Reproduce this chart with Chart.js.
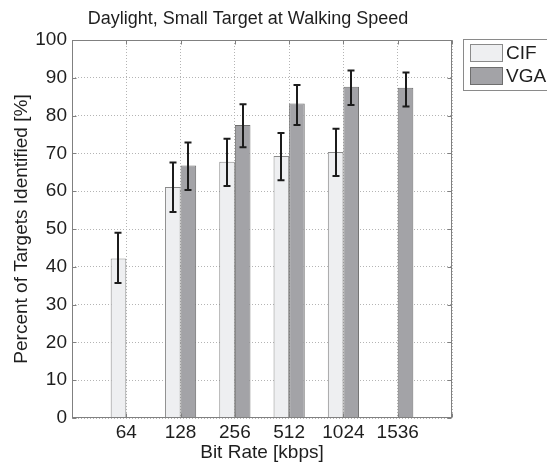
<!DOCTYPE html>
<html>
<head>
<meta charset="utf-8">
<script src="https://cdn.jsdelivr.net/npm/chart.js@4"></script>
<style>
  html, body { margin: 0; padding: 0; background: #ffffff; }
  #wrap { width: 547px; height: 464px; }
</style>
</head>
<body>
<div id="wrap"><canvas id="c" width="547" height="464"></canvas></div>
<script>
// ---- data ----
const categories = ['64', '128', '256', '512', '1024', '1536'];
const seriesNames = ['CIF', 'VGA'];
const cifValues = [42.2, 61.1, 67.8, 69.3, 70.4, null];
const cifLow    = [35.7, 54.5, 61.4, 62.9, 64.0, null];
const cifHigh   = [49.0, 67.6, 73.9, 75.4, 76.5, null];
const vgaValues = [null, 66.8, 77.5, 83.2, 87.6, 87.4];
const vgaLow    = [null, 60.3, 71.6, 77.5, 82.8, 82.4];
const vgaHigh   = [null, 72.9, 83.0, 88.1, 91.9, 91.4];
const yTicks = [0, 10, 20, 30, 40, 50, 60, 70, 80, 90, 100];
const titleText = 'Daylight, Small Target at Walking Speed';
const xTitle = 'Bit Rate [kbps]';
const yTitle = 'Percent of Targets Identified [%]';

const FONT = "'Liberation Sans', Arial, Helvetica, sans-serif";
const TEXT = '#1e1e1e';

const toPoints = (vals) => vals.map((v, i) => ({ x: i + 1, y: v }));

const errorSets = [
  { low: cifLow, high: cifHigh },
  { low: vgaLow, high: vgaHigh }
];

const errorBarPlugin = {
  id: 'errorBars',
  afterDatasetsDraw(chart) {
    const ctx = chart.ctx;
    const yScale = chart.scales.y;
    ctx.save();
    ctx.strokeStyle = '#1c1c1c';
    ctx.lineWidth = 2;
    chart.data.datasets.forEach((ds, di) => {
      const meta = chart.getDatasetMeta(di);
      const err = errorSets[di];
      meta.data.forEach((el, j) => {
        if (err.low[j] == null || err.high[j] == null) return;
        const x = Math.round(el.x);
        const yl = yScale.getPixelForValue(err.low[j]);
        const yh = yScale.getPixelForValue(err.high[j]);
        ctx.beginPath();
        ctx.moveTo(x, yl); ctx.lineTo(x, yh);
        ctx.moveTo(x - 3.5, yl); ctx.lineTo(x + 3.5, yl);
        ctx.moveTo(x - 3.5, yh); ctx.lineTo(x + 3.5, yh);
        ctx.stroke();
      });
    });
    ctx.restore();
  }
};

const framePlugin = {
  id: 'frame',
  afterDraw(chart) {
    const ctx = chart.ctx;
    const a = chart.chartArea;
    const xs = chart.scales.x, ys = chart.scales.y;
    ctx.save();
    ctx.strokeStyle = '#808080';
    ctx.lineWidth = 1;
    const L = Math.round(a.left) + 0.5, R = Math.round(a.right) - 0.5;
    const T = Math.round(a.top) + 0.5, B = Math.round(a.bottom) - 0.5;
    ctx.strokeRect(L, T, R - L, B - T);
    // inward ticks
    ctx.beginPath();
    ys.ticks.forEach(t => {
      const y = Math.round(ys.getPixelForValue(t.value)) + 0.5;
      ctx.moveTo(L, y); ctx.lineTo(L + 4, y);
      ctx.moveTo(R, y); ctx.lineTo(R - 4, y);
    });
    xs.ticks.forEach(t => {
      const x = Math.round(xs.getPixelForValue(t.value)) + 0.5;
      ctx.moveTo(x, B); ctx.lineTo(x, B - 4);
      ctx.moveTo(x, T); ctx.lineTo(x, T + 4);
    });
    ctx.stroke();

    // title
    ctx.fillStyle = TEXT;
    ctx.font = '18px ' + FONT;
    ctx.textAlign = 'center';
    ctx.textBaseline = 'middle';
    ctx.fillText(titleText, 248, 19);

    // legend box
    ctx.fillStyle = '#ffffff';
    ctx.strokeStyle = '#8a8a8a';
    ctx.fillRect(463.5, 39.5, 100, 51);
    ctx.strokeRect(463.5, 39.5, 100, 51);
    chart.data.datasets.forEach((ds, i) => {
      const sy = 44.5 + i * 23;
      ctx.fillStyle = ds.backgroundColor;
      ctx.fillRect(470.5, sy, 32, 17);
      ctx.strokeStyle = ds.borderColor;
      ctx.strokeRect(470.5, sy, 32, 17);
      ctx.fillStyle = TEXT;
      ctx.font = '19px ' + FONT;
      ctx.textAlign = 'left';
      ctx.textBaseline = 'middle';
      ctx.fillText(ds.label, 506, sy + 9);
    });
    ctx.restore();
  }
};

new Chart(document.getElementById('c'), {
  type: 'bar',
  data: {
    datasets: [
      { label: seriesNames[0], data: toPoints(cifValues), backgroundColor: '#eeeff1', borderColor: '#8a8a8a', borderWidth: 1 },
      { label: seriesNames[1], data: toPoints(vgaValues), backgroundColor: '#a3a3a7', borderColor: '#6e6e6e', borderWidth: 1 }
    ]
  },
  options: {
    responsive: false,
    animation: false,
    events: [],
    categoryPercentage: 0.575,
    barPercentage: 1,
    layout: { padding: { left: 0, right: 95, top: 40, bottom: 0 } },
    plugins: {
      legend: { display: false },
      title: { display: false },
      tooltip: { enabled: false }
    },
    scales: {
      x: {
        type: 'linear',
        min: 0, max: categories.length + 1,
        offset: false,
        afterBuildTicks: (s) => { s.ticks = Array.from({ length: categories.length + 2 }, (_, i) => ({ value: i })); },
        afterFit: (s) => { s.height = 46; },
        ticks: {
          stepSize: 1,
          autoSkip: false,
          maxRotation: 0,
          padding: 3,
          color: TEXT,
          font: { family: FONT, size: 19 },
          callback: (v) => categories[v - 1] ?? ''
        },
        grid: { offset: false, drawTicks: false, color: '#b4b4b4', lineWidth: 1 },
        border: { display: false, dash: [1, 2] },
        title: { display: true, text: xTitle, color: TEXT, font: { family: FONT, size: 19 }, padding: { top: 0, bottom: 0 } }
      },
      y: {
        min: 0, max: 100,
        afterBuildTicks: (s) => { s.ticks = yTicks.map(v => ({ value: v })); },
        afterFit: (s) => { s.width = 72; },
        ticks: { padding: 5, color: TEXT, font: { family: FONT, size: 19 } },
        grid: { drawTicks: false, color: '#b4b4b4', lineWidth: 1 },
        border: { display: false, dash: [1, 2] },
        title: { display: true, text: yTitle, color: TEXT, font: { family: FONT, size: 19 }, padding: { top: 10, bottom: 0 } }
      }
    }
  },
  plugins: [errorBarPlugin, framePlugin]
});
</script>
</body>
</html>
